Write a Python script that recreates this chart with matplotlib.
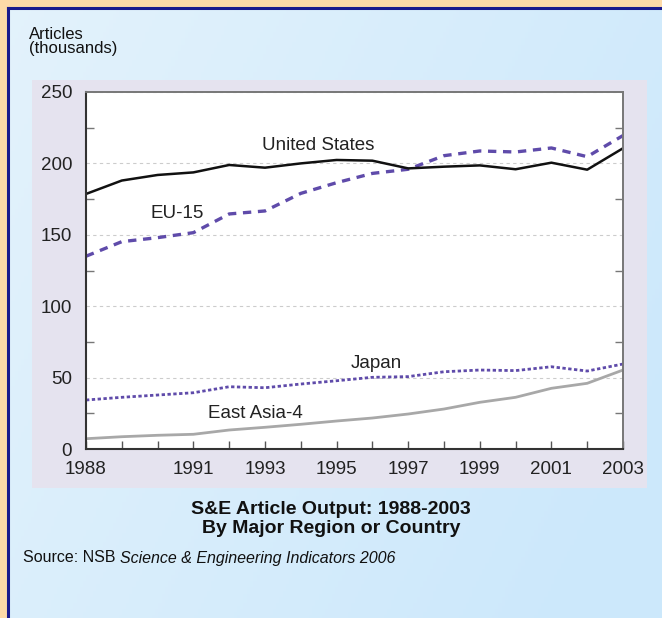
import numpy as np
import matplotlib
matplotlib.use('Agg')
import matplotlib.pyplot as plt
from matplotlib.patches import Rectangle

years = list(range(1988, 2004))
us = [178.6, 188, 191.9, 193.7, 198.9, 197, 200, 202.4, 201.9, 196.5, 197.7, 198.6, 195.9, 200.5, 195.6, 210.6]
eu15 = [135, 145.2, 148, 151.5, 164.6, 166.7, 179, 186.5, 193, 195.9, 205.4, 208.7, 208, 210.8, 204.7, 219.5]
japan = [34.3, 36.2, 37.8, 39.4, 43.6, 42.9, 45.5, 47.8, 50.2, 50.7, 54.1, 55.3, 54.9, 57.6, 54.6, 59.5]
east_asia4 = [7.2, 8.6, 9.6, 10.3, 13.3, 15.2, 17.3, 19.6, 21.7, 24.5, 28, 32.7, 36.2, 42.5, 46, 55.3]

xtick_labels = [str(y) if y in (1988, 1991, 1993, 1995, 1997, 1999, 2001, 2003) else '' for y in years]
yticks = [0, 50, 100, 150, 200, 250]

series_labels = [('United States', 1994.48, 212.2),
                 ('EU-15', 1990.54, 164.6),
                 ('Japan', 1996.1, 60.2),
                 ('East Asia-4', 1992.72, 25.2)]

W, H = 662, 618
plt.rcParams['font.family'] = ['Liberation Sans', 'DejaVu Sans']

fig = plt.figure(figsize=(W / 100, H / 100), dpi=100)
fig.patch.set_facecolor('#FDDAA8')

# background panel in pixel coordinates
bg = fig.add_axes([0, 0, 1, 1])
bg.set_xlim(0, W)
bg.set_ylim(H, 0)
bg.axis('off')

gx, gy = np.meshgrid(np.linspace(0, 1, 200), np.linspace(0, 1, 200))
t = np.clip(0.75 * gx + 0.35 * gy, 0, 1)[..., None]
c1 = np.array([0.89, 0.95, 0.985])
c2 = np.array([0.80, 0.91, 0.985])
grad = c1 * (1 - t) + c2 * t
bg.imshow(grad, extent=[8, W, H, 8], aspect='auto', zorder=0)
bg.plot([8, W], [8, 8], color='#1A1A8C', lw=2.2, zorder=1)
bg.plot([8, 8], [8, H], color='#1A1A8C', lw=2.2, zorder=1)
bg.add_patch(Rectangle((32, 80), 615, 408, facecolor='#E5E3EF', edgecolor='none', zorder=1))

bg.text(29, 27, 'Articles\n(thousands)', fontsize=12, va='top', ha='left',
        linespacing=0.9, color='#111111')

bg.text(331, 519, 'S&E Article Output: 1988-2003\nBy Major Region or Country',
        fontsize=14, fontweight='bold', ha='center', va='center', linespacing=1.2,
        color='#111111')

src = bg.text(23, 558, 'Source: NSB ', fontsize=11.5, ha='left', va='center', color='#111111')
bg.annotate('Science & Engineering Indicators 2006', xy=(1, 0), xycoords=src, va='bottom',
            ha='left', fontsize=11.5, style='italic', color='#111111')

# main chart
ax = fig.add_axes([86 / W, (H - 449) / H, (623 - 86) / W, (449 - 92) / H])
ax.set_facecolor('white')
ax.plot(years, east_asia4, color='#A8A8A8', lw=2, solid_capstyle='butt')
ax.plot(years, japan, color='#5F4BAA', lw=2, dashes=(1.2, 0.9))
ax.plot(years, eu15, color='#5F4BAA', lw=2.4, dashes=(2.5, 2))
ax.plot(years, us, color='#111111', lw=1.8)

for name, x, y in series_labels:
    ax.text(x, y, name, fontsize=13.5, ha='center', va='center', color='#222222')

ax.set_xlim(1988, 2003)
ax.set_ylim(0, 250)
ax.set_xticks(years)
ax.set_xticklabels(xtick_labels)
ax.set_yticks(yticks)
ax.set_yticks([25, 75, 125, 175, 225], minor=True)
ax.tick_params(axis='x', direction='in', length=6, width=1, color='#555555', labelsize=13.5,
               pad=9, labelcolor='#222222')
ax.tick_params(axis='y', which='major', length=0, labelsize=13.5, pad=10, labelcolor='#222222')
ax.tick_params(axis='y', which='minor', direction='in', length=6, width=1, color='#777777',
               left=True, right=True)
ax.grid(axis='y', color='#CCCCCC', lw=0.8, dashes=(3, 3))
ax.set_axisbelow(True)
for s in ('left', 'bottom'):
    ax.spines[s].set_color('#333333')
    ax.spines[s].set_linewidth(1.5)
for s in ('top', 'right'):
    ax.spines[s].set_color('#777777')
    ax.spines[s].set_linewidth(1.4)

fig.savefig('out.png', dpi=100, facecolor=fig.get_facecolor())
